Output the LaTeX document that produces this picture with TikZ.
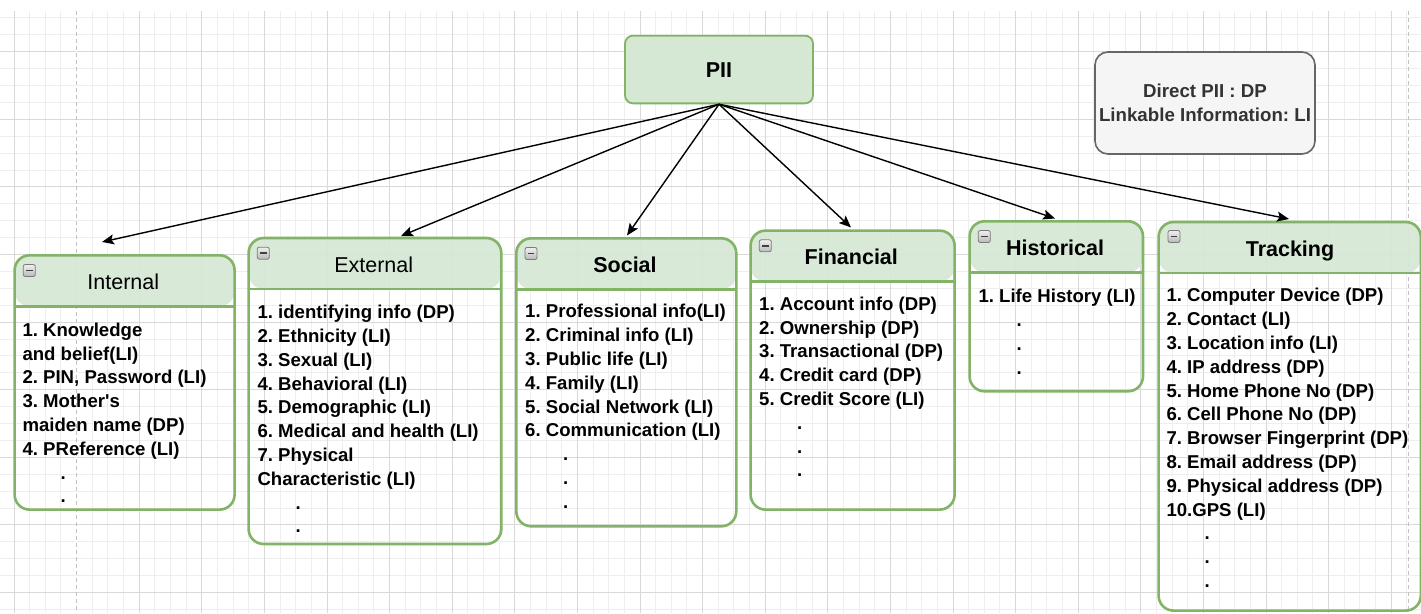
\documentclass[tikz,border=0pt]{standalone}
\usepackage{fontspec}
\setmainfont{Liberation Sans}[Ligatures=TeXOff]
\usetikzlibrary{arrows.meta}
\definecolor{hdrfill}{HTML}{D5E8D4}
\definecolor{hdrline}{HTML}{82B366}
\definecolor{gridminor}{HTML}{EEEEEE}
\definecolor{gridmajor}{HTML}{D9D9D9}
\definecolor{pagebrk}{HTML}{C2C2C2}
\definecolor{legfill}{HTML}{F5F5F5}
\definecolor{legline}{HTML}{666666}
\definecolor{legtext}{HTML}{333333}
\definecolor{iconline}{HTML}{7A7A7A}
\newcommand\firstln{\rule{0pt}{14pt}}
\newcommand\dotln{\hspace*{38pt}.}
\frenchspacing
\begin{document}
\frenchspacing
\begin{tikzpicture}[x=1pt,y=-1pt,
  gminor/.style={draw=gridminor,line width=1pt},
  gmajor/.style={draw=gridmajor,line width=1pt},
  pgbreak/.style={draw=pagebrk,line width=1pt,dash pattern=on 4pt off 3pt},
  lane/.style={draw=hdrline,line width=2.6pt,rounded corners=15pt,inner sep=0pt,anchor=north west,
    path picture={
      \fill[hdrfill,fill opacity=0.92] ([yshift=2pt]path picture bounding box.north west) rectangle ([yshift=-51pt]path picture bounding box.north east);
      \draw[hdrline,line width=2.6pt] ([yshift=-51pt]path picture bounding box.north west) -- ([yshift=-51pt]path picture bounding box.north east);}},
  ttl/.style={inner sep=0pt,font=\fontsize{21.5}{26}\selectfont,text height=15.4pt,text depth=0pt},
  ttlb/.style={ttl,font=\fontsize{21.5}{26}\selectfont\bfseries},
  body/.style={anchor=north west,align=left,inner sep=0pt,font=\fontsize{18.6}{23.8}\selectfont\bfseries\frenchspacing},
  minusicon/.style={minimum size=12pt,inner sep=0pt,rounded corners=2pt,draw=iconline,line width=0.8pt,
    top color=gray!12,bottom color=gray!55,
    path picture={\draw[black!75,line width=1.8pt] ([xshift=2.8pt]path picture bounding box.west) -- ([xshift=-2.8pt]path picture bounding box.east);}},
  arr/.style={draw=black,line width=1.4pt,-{Stealth[length=12pt,width=10pt,inset=2.5pt]}}
]
\useasboundingbox (0,0) rectangle (1421,613);
\fill[white] (0,0) rectangle (1421,613);
% grid
\foreach \i in {0,...,89}{\draw[gminor] ({14+15.65*\i},11) -- ({14+15.65*\i},613);}
\foreach \k in {-2,...,33}{\draw[gminor] (0,{51.7+16.9*\k}) -- (1421,{51.7+16.9*\k});}
\foreach \i in {0,4,...,88}{\draw[gmajor] ({14+15.65*\i},11) -- ({14+15.65*\i},613);}
\foreach \k in {0,4,...,32}{\draw[gmajor] (0,{51.7+16.9*\k}) -- (1421,{51.7+16.9*\k});}
\draw[white,line width=1.2pt] (76.7,11) -- (76.7,613);
\draw[pgbreak] (76.7,11) -- (76.7,613);
\draw[pgbreak] (1408,11) -- (1408,613);

% top node and legend
\node[draw=hdrline,fill=hdrfill,line width=1.8pt,rounded corners=8pt,minimum width=188pt,minimum height=67.7pt,
  inner sep=0pt,font=\fontsize{21.5}{26}\selectfont\bfseries,text height=15.4pt,text depth=0pt] (pii) at (719,69.5) {PII};
\node[draw=legline,fill=legfill,line width=1.6pt,rounded corners=13pt,minimum width=220pt,minimum height=102pt,
  inner sep=0pt,align=center,text=legtext,font=\fontsize{18.7}{24.3}\selectfont\bfseries\frenchspacing] (leg) at (1205,103) {Direct PII : DP\\Linkable Information: LI};

% Internal
\node[lane,minimum width=220pt,minimum height=254.3pt] (int) at (13.3,254) {};
\node[ttl] (intT) at (123.3,281.5) {Internal};
\node[minusicon] (intM) at (29.3,270.5) {};
\node[body] (intB) at (22.3,322) {\firstln 1. Knowledge\\and belief(LI)\\2. PIN, Password (LI)\\3. Mother's\\maiden name (DP)\\4. PReference (LI)\\\dotln\\\dotln};

% External
\node[lane,minimum width=252.7pt,minimum height=306pt] (ext) at (247.3,236.7) {};
\node[ttl] (extT) at (373.7,264.5) {External};
\node[minusicon] (extM) at (263.3,253.2) {};
\node[body] (extB) at (257.3,304.4) {\firstln 1. identifying info (DP)\\2. Ethnicity (LI)\\3. Sexual (LI)\\4. Behavioral (LI)\\5. Demographic (LI)\\6. Medical and health (LI)\\7. Physical\\Characteristic (LI)\\\dotln\\\dotln};

% Social
\node[lane,minimum width=220pt,minimum height=288pt] (soc) at (515,237) {};
\node[ttlb] (socT) at (625,264.5) {Social};
\node[minusicon] (socM) at (531,253.5) {};
\node[body] (socB) at (525,303.7) {\firstln 1. Professional info(LI)\\2. Criminal info (LI)\\3. Public life (LI)\\4. Family (LI)\\5. Social Network (LI)\\6. Communication (LI)\\\dotln\\\dotln\\\dotln};

% Financial
\node[lane,minimum width=204pt,minimum height=279pt] (fin) at (749.3,229.3) {};
\node[ttlb] (finT) at (851.3,256.7) {Financial};
\node[minusicon] (finM) at (765.3,245.8) {};
\node[body] (finB) at (759,296) {\firstln 1. Account info (DP)\\2. Ownership (DP)\\3. Transactional (DP)\\4. Credit card (DP)\\5. Credit Score (LI)\\\dotln\\\dotln\\\dotln};

% Historical
\node[lane,minimum width=173.4pt,minimum height=170pt] (his) at (968.3,220) {};
\node[ttlb] (hisT) at (1055,247.7) {Historical};
\node[minusicon] (hisM) at (984.3,236.5) {};
\node[body] (hisB) at (978.3,288.7) {\firstln 1. Life History (LI)\\\dotln\\\dotln\\\dotln};

% Tracking
\node[lane,minimum width=262.2pt,minimum height=388.6pt] (trk) at (1157.3,220.7) {};
\node[ttlb] (trkT) at (1290,248.3) {Tracking};
\node[minusicon] (trkM) at (1174,236.5) {};
\node[body] (trkB) at (1166.3,287.7) {\firstln 1. Computer Device (DP)\\2. Contact (LI)\\3. Location info (LI)\\4. IP address (DP)\\5. Home Phone No (DP)\\6. Cell Phone No (DP)\\7. Browser Fingerprint (DP)\\8. Email address (DP)\\9. Physical address (DP)\\10.GPS (LI)\\\dotln\\\dotln\\\dotln};

% arrow ends
\coordinate (tInt) at (102,242);
\coordinate (tExt) at (401,236);
\coordinate (tSoc) at (627,235.5);
\coordinate (tFin) at (851,227.5);
\coordinate (tHis) at (1055,218.5);
\coordinate (tTrk) at (1289,219);
\foreach \t in {tInt,tExt,tSoc,tFin,tHis,tTrk}{\draw[arr] (pii.south) -- (\t);}
\end{tikzpicture}
\end{document}
